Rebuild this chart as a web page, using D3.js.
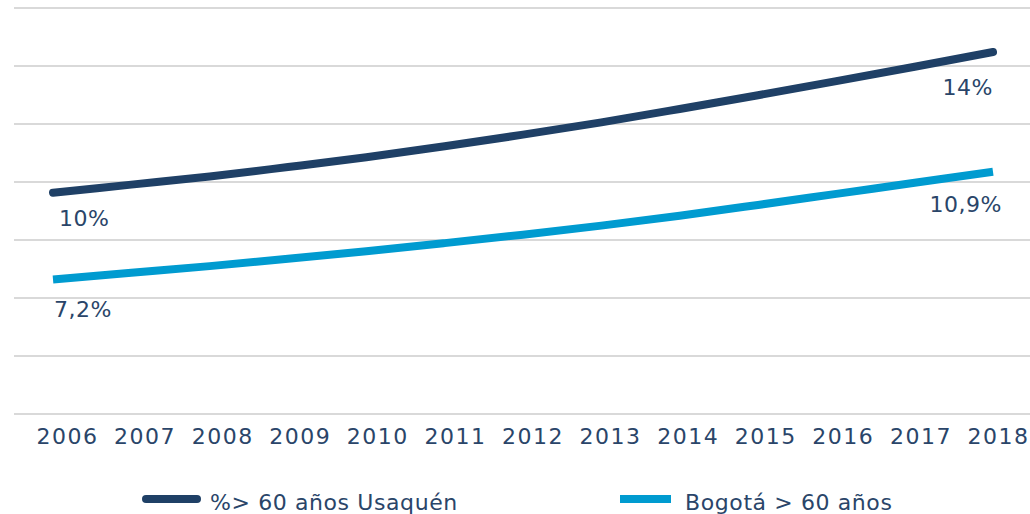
<!DOCTYPE html>
<html>
<head>
<meta charset="utf-8">
<script src="https://cdn.jsdelivr.net/npm/d3@7"></script>
<style>
  html, body { margin: 0; padding: 0; background: #fff; }
  svg { display: block; }
  text { font-family: "DejaVu Sans", "Open Sans", sans-serif; fill: #2a4569; }
</style>
</head>
<body>
<svg id="chart" width="1030" height="514"></svg>
<script>
const years = [2006, 2007, 2008, 2009, 2010, 2011, 2012, 2013, 2014, 2015, 2016, 2017, 2018];
const usaquen = [10.0, 10.23, 10.46, 10.73, 11.01, 11.32, 11.65, 12.0, 12.38, 12.77, 13.17, 13.58, 14.0];
const bogota = [7.2, 7.43, 7.66, 7.91, 8.17, 8.45, 8.74, 9.05, 9.39, 9.76, 10.14, 10.52, 10.9];
const seriesNames = ["%> 60 años Usaquén", "Bogotá > 60 años"];
const usaquenLabels = ["10%", "14%"];
const bogotaLabels = ["7,2%", "10,9%"];
const gridSteps = [0, 1, 2, 3, 4, 5, 6, 7];

const colors = ["#1f4066", "#009bd0"];
const svg = d3.select("#chart");

const xLine = d3.scalePoint().domain(years).range([53, 993]);
const xAxisScale = d3.scalePoint().domain(years).range([67, 998]);
const yGrid = d3.scaleLinear().domain([0, 7]).range([414, 8]);
const yU = d3.scaleLinear().domain([3.71, 15.25]).range([414, 8]);
const yB = d3.scaleLinear().domain([2.584, 16.52]).range([414, 8]);

// gridlines
svg.append("g").selectAll("line").data(gridSteps).join("line")
  .attr("x1", 14).attr("x2", 1030)
  .attr("y1", d => yGrid(d)).attr("y2", d => yGrid(d))
  .attr("stroke", "#d9d9d9").attr("stroke-width", 2);

// x axis
const xAxis = svg.append("g").attr("transform", "translate(0,425)")
  .call(d3.axisBottom(xAxisScale).tickSize(0).tickPadding(3));
xAxis.select(".domain").remove();
xAxis.selectAll("text").style("font-size", "22px").attr("fill", "#2a4569")
  .style("font-family", "'DejaVu Sans', sans-serif").style("letter-spacing", "1.5px");

const lineU = d3.line().x((d, i) => xLine(years[i])).y(d => yU(d)).curve(d3.curveCatmullRom);
const lineB = d3.line().x((d, i) => xLine(years[i])).y(d => yB(d)).curve(d3.curveCatmullRom);

svg.append("path").datum(bogota).attr("d", lineB)
  .attr("fill", "none").attr("stroke", colors[1]).attr("stroke-width", 8)
  .attr("stroke-linecap", "butt");
svg.append("path").datum(usaquen).attr("d", lineU)
  .attr("fill", "none").attr("stroke", colors[0]).attr("stroke-width", 8)
  .attr("stroke-linecap", "round");

// data labels
const n = years.length - 1;
const lbl = (x, y, t, anchor) => svg.append("text").attr("x", x).attr("y", y)
  .attr("text-anchor", anchor).style("font-size", "22px").style("letter-spacing", "0.5px").text(t);
lbl(xLine(years[0]) + 6, yU(usaquen[0]) + 33, usaquenLabels[0], "start");
lbl(xLine(years[n]) + 0, yU(usaquen[n]) + 43, usaquenLabels[1], "end");
lbl(xLine(years[0]) + 1, yB(bogota[0]) + 37, bogotaLabels[0], "start");
lbl(xLine(years[n]) + 9, yB(bogota[n]) + 40, bogotaLabels[1], "end");

// legend
const legend = [
  {x: 146, x2: 197, tx: 210, cap: "round"},
  {x: 620, x2: 671, tx: 685, cap: "butt"}
];
legend.forEach((l, i) => {
  svg.append("line").attr("x1", l.x).attr("x2", l.x2).attr("y1", 499).attr("y2", 499)
    .attr("stroke", colors[i]).attr("stroke-width", 8).attr("stroke-linecap", l.cap);
  svg.append("text").attr("x", l.tx).attr("y", 510).style("font-size", "22px")
    .style("letter-spacing", "0.6px").text(seriesNames[i]);
});
</script>
</body>
</html>
